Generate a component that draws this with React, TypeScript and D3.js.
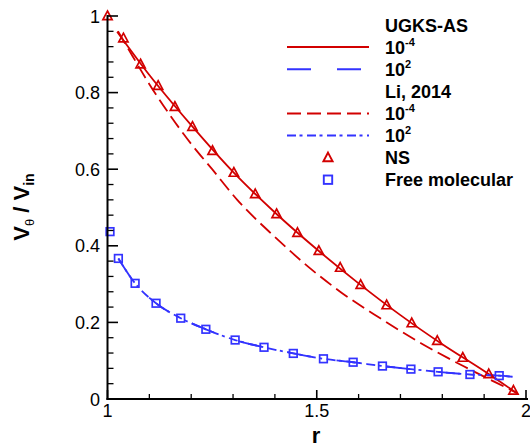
import React from "react";
import * as d3 from "d3";

// ---- data ----
const nsR = [1.0, 1.038, 1.079, 1.121, 1.161, 1.203, 1.251, 1.302, 1.353, 1.404, 1.454, 1.505, 1.556, 1.605, 1.667, 1.727, 1.788, 1.849, 1.911, 1.97];
const nsV = [1.0, 0.942, 0.874, 0.818, 0.763, 0.711, 0.648, 0.591, 0.535, 0.483, 0.434, 0.387, 0.343, 0.298, 0.245, 0.198, 0.152, 0.108, 0.065, 0.022];

const fmR = [1.006, 1.026, 1.066, 1.116, 1.175, 1.235, 1.305, 1.374, 1.444, 1.516, 1.587, 1.657, 1.725, 1.79, 1.866, 1.936];
const fmV = [0.437, 0.367, 0.302, 0.25, 0.211, 0.182, 0.154, 0.135, 0.119, 0.105, 0.096, 0.086, 0.078, 0.071, 0.064, 0.061];

const ugksLowR = [1.023, 1.1, 1.2, 1.3, 1.4, 1.5, 1.6, 1.7, 1.8, 1.9, 1.981];
const ugksLowV = [0.959, 0.846, 0.715, 0.593, 0.487, 0.391, 0.302, 0.219, 0.143, 0.073, 0.013];

const liLowR = [1.025, 1.06, 1.1, 1.15, 1.2, 1.25, 1.31, 1.4, 1.48, 1.56, 1.65, 1.75, 1.85, 1.93, 1.978];
const liLowV = [0.96, 0.895, 0.822, 0.74, 0.666, 0.6, 0.52, 0.423, 0.345, 0.277, 0.212, 0.145, 0.086, 0.042, 0.016];

const ugksHighR = [1.026, 1.066, 1.116, 1.175, 1.235, 1.305, 1.374, 1.444, 1.516, 1.587, 1.657, 1.725, 1.79, 1.866, 1.936, 1.968];
const ugksHighV = [0.367, 0.302, 0.25, 0.211, 0.182, 0.154, 0.135, 0.119, 0.105, 0.096, 0.086, 0.078, 0.071, 0.064, 0.061, 0.058];

const liHighR = [1.026, 1.066, 1.116, 1.175, 1.235, 1.305, 1.374, 1.444, 1.516, 1.587, 1.657, 1.725, 1.79, 1.866, 1.936, 1.968];
const liHighV = [0.367, 0.302, 0.25, 0.211, 0.182, 0.154, 0.135, 0.119, 0.105, 0.096, 0.086, 0.078, 0.071, 0.064, 0.061, 0.058];

const xMajor = [1, 1.5, 2];
const xMajorLabels = ["1", "1.5", "2"];
const yMajor = [0, 0.2, 0.4, 0.6, 0.8, 1];
const yMajorLabels = ["0", "0.2", "0.4", "0.6", "0.8", "1"];

const RED = "#d20000";
const BLUE = "#3333ff";
const FONT = "'Liberation Sans', Arial, Helvetica, sans-serif";

const zip = (a: number[], b: number[]) => a.map((v, i) => [v, b[i]] as [number, number]);

export default function App() {
  const W = 530, H = 447;
  const x = d3.scaleLinear().domain([1, 2]).range([107.5, 526]);
  const y = d3.scaleLinear().domain([0, 1]).range([399, 16]);
  const line = d3
    .line<[number, number]>()
    .x((d) => x(d[0]))
    .y((d) => y(d[1]))
    .curve(d3.curveMonotoneX);

  const xMinor = d3.range(1, 2.0001, 0.1).filter((v) => !xMajor.some((m) => Math.abs(m - v) < 1e-6));
  const yMinor = d3.range(0, 1.0001, 0.04).filter((v) => !yMajor.some((m) => Math.abs(m - v) < 1e-6));

  const tri = "M0,-5 L4.6,3.6 L-4.6,3.6 Z";
  const sq = 3.8;

  const lx0 = 287, lx1 = 369, lmx = 328, ltx = 385, ly0 = 25, ldy = 22.1;
  const rowY = (i: number) => ly0 + i * ldy;

  const lines = [
    { d: zip(ugksLowR, ugksLowV), color: RED, dash: undefined as string | undefined },
    { d: zip(liLowR, liLowV), color: RED, dash: "14,6" },
    { d: zip(ugksHighR, ugksHighV), color: BLUE, dash: "24,26" },
    { d: zip(liHighR, liHighV), color: BLUE, dash: "9,3.5,3,4.5" },
  ];

  return (
    <svg width={W} height={H} style={{ position: "absolute", left: 0, top: 0, background: "#fff" }} fontFamily={FONT}>
      <rect width={W} height={H} fill="#fff" />
      {/* lines */}
      {lines.map((l, i) => (
        <path key={i} d={line(l.d) || ""} fill="none" stroke={l.color} strokeWidth={1.8} strokeDasharray={l.dash} />
      ))}
      {/* markers */}
      {zip(nsR, nsV).map((p, i) => (
        <path key={"t" + i} d={tri} transform={`translate(${x(p[0])},${y(p[1])})`} fill="none" stroke={RED} strokeWidth={1.7} />
      ))}
      {zip(fmR, fmV).map((p, i) => (
        <rect key={"s" + i} x={x(p[0]) - sq} y={y(p[1]) - sq} width={sq * 2} height={sq * 2} fill="none" stroke={BLUE} strokeWidth={1.7} />
      ))}

      {/* axes */}
      <line x1={107.5} x2={107.5} y1={15} y2={400} stroke="#000" strokeWidth={2} />
      <line x1={106.5} x2={528} y1={399} y2={399} stroke="#000" strokeWidth={2.2} />
      {yMajor.map((v, i) => (
        <g key={"ym" + i}>
          <line x1={107.5} x2={118} y1={y(v)} y2={y(v)} stroke="#000" strokeWidth={1.6} />
          <text x={100} y={y(v) + 6.5} fontSize={18} textAnchor="end">{yMajorLabels[i]}</text>
        </g>
      ))}
      {yMinor.map((v, i) => (
        <line key={"yn" + i} x1={107.5} x2={113.5} y1={y(v)} y2={y(v)} stroke="#000" strokeWidth={1.3} />
      ))}
      {xMajor.map((v, i) => (
        <g key={"xm" + i}>
          <line x1={x(v)} x2={x(v)} y1={399} y2={390} stroke="#000" strokeWidth={1.6} />
          <text x={x(v)} y={417} fontSize={18} textAnchor="middle">{xMajorLabels[i]}</text>
        </g>
      ))}
      {xMinor.map((v, i) => (
        <line key={"xn" + i} x1={x(v)} x2={x(v)} y1={399} y2={394} stroke="#000" strokeWidth={1.3} />
      ))}

      {/* axis titles */}
      <text x={316} y={443} fontSize={22} fontWeight="bold" textAnchor="middle">r</text>
      <text transform="translate(29,207) rotate(-90)" fontSize={22} fontWeight="bold" textAnchor="middle">
        V<tspan fontSize={13} fontWeight="normal" dy={5}>θ</tspan>
        <tspan dy={-5}> / V</tspan>
        <tspan fontSize={14} dy={5}>in</tspan>
      </text>

      {/* legend */}
      <g fontSize={18} fontWeight="bold">
        <text x={ltx} y={rowY(0) + 6.5}>UGKS-AS</text>
        <line x1={lx0} x2={lx1} y1={rowY(1)} y2={rowY(1)} stroke={RED} strokeWidth={2} />
        <text x={ltx} y={rowY(1) + 6.5}>10<tspan fontSize={11} dy={-8}>-4</tspan></text>
        <line x1={lx0} x2={lx1} y1={rowY(2)} y2={rowY(2)} stroke={BLUE} strokeWidth={2} strokeDasharray="24,26" />
        <text x={ltx} y={rowY(2) + 6.5}>10<tspan fontSize={11} dy={-8}>2</tspan></text>
        <text x={ltx} y={rowY(3) + 6.5}>Li, 2014</text>
        <line x1={lx0} x2={lx1} y1={rowY(4)} y2={rowY(4)} stroke={RED} strokeWidth={2} strokeDasharray="14,6" />
        <text x={ltx} y={rowY(4) + 6.5}>10<tspan fontSize={11} dy={-8}>-4</tspan></text>
        <line x1={lx0} x2={lx1} y1={rowY(5)} y2={rowY(5)} stroke={BLUE} strokeWidth={2} strokeDasharray="9,3.5,3,4.5" />
        <text x={ltx} y={rowY(5) + 6.5}>10<tspan fontSize={11} dy={-8}>2</tspan></text>
        <path d={tri} transform={`translate(${lmx},${rowY(6)})`} fill="none" stroke={RED} strokeWidth={1.9} />
        <text x={ltx} y={rowY(6) + 6.5}>NS</text>
        <rect x={lmx - 4.2} y={rowY(7) - 4.2} width={8.4} height={8.4} fill="none" stroke={BLUE} strokeWidth={1.9} />
        <text x={ltx} y={rowY(7) + 6.5}>Free molecular</text>
      </g>
    </svg>
  );
}
